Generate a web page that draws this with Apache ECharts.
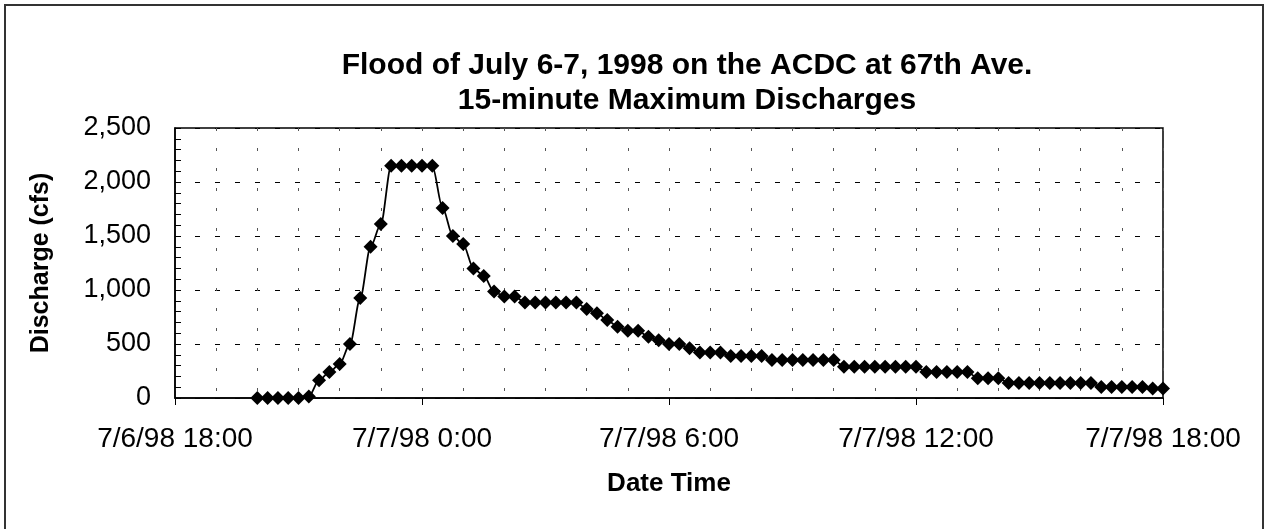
<!DOCTYPE html>
<html>
<head>
<meta charset="utf-8">
<title>Flood of July 6-7, 1998</title>
<script src="https://cdn.jsdelivr.net/npm/echarts@6/dist/echarts.min.js"></script>
<style>
html,body{margin:0;padding:0;background:#fff;}
#chartDiv{width:1269px;height:529px;}
</style>
</head>
<body>
<div id="chartDiv"></div>
<script>
// 15 minute readings
var times = [
	'7/6/98 20:00','7/6/98 20:15','7/6/98 20:30','7/6/98 20:45',
	'7/6/98 21:00','7/6/98 21:15','7/6/98 21:30','7/6/98 21:45',
	'7/6/98 22:00','7/6/98 22:15','7/6/98 22:30','7/6/98 22:45',
	'7/6/98 23:00','7/6/98 23:15','7/6/98 23:30','7/6/98 23:45',
	'7/7/98 0:00','7/7/98 0:15','7/7/98 0:30','7/7/98 0:45',
	'7/7/98 1:00','7/7/98 1:15','7/7/98 1:30','7/7/98 1:45',
	'7/7/98 2:00','7/7/98 2:15','7/7/98 2:30','7/7/98 2:45',
	'7/7/98 3:00','7/7/98 3:15','7/7/98 3:30','7/7/98 3:45',
	'7/7/98 4:00','7/7/98 4:15','7/7/98 4:30','7/7/98 4:45',
	'7/7/98 5:00','7/7/98 5:15','7/7/98 5:30','7/7/98 5:45',
	'7/7/98 6:00','7/7/98 6:15','7/7/98 6:30','7/7/98 6:45',
	'7/7/98 7:00','7/7/98 7:15','7/7/98 7:30','7/7/98 7:45',
	'7/7/98 8:00','7/7/98 8:15','7/7/98 8:30','7/7/98 8:45',
	'7/7/98 9:00','7/7/98 9:15','7/7/98 9:30','7/7/98 9:45',
	'7/7/98 10:00','7/7/98 10:15','7/7/98 10:30','7/7/98 10:45',
	'7/7/98 11:00','7/7/98 11:15','7/7/98 11:30','7/7/98 11:45',
	'7/7/98 12:00','7/7/98 12:15','7/7/98 12:30','7/7/98 12:45',
	'7/7/98 13:00','7/7/98 13:15','7/7/98 13:30','7/7/98 13:45',
	'7/7/98 14:00','7/7/98 14:15','7/7/98 14:30','7/7/98 14:45',
	'7/7/98 15:00','7/7/98 15:15','7/7/98 15:30','7/7/98 15:45',
	'7/7/98 16:00','7/7/98 16:15','7/7/98 16:30','7/7/98 16:45',
	'7/7/98 17:00','7/7/98 17:15','7/7/98 17:30','7/7/98 17:45',
	'7/7/98 18:00'
];
var discharge = [
	0,0,0,0,
	0,15,165,240,
	315,500,925,1400,
	1610,2150,2150,2150,
	2150,2150,1760,1500,
	1425,1200,1130,985,
	940,940,885,885,
	885,885,885,885,
	825,785,722,660,
	623,623,568,535,
	500,500,460,422,
	422,422,388,388,
	388,388,352,352,
	352,352,352,352,
	352,290,290,290,
	290,290,290,290,
	290,240,240,240,
	240,240,184,184,
	184,139,139,139,
	139,139,139,139,
	139,139,102,102,
	102,102,102,88,
	88
];
var xTickLabels = ['7/6/98 18:00','7/7/98 0:00','7/7/98 6:00','7/7/98 12:00','7/7/98 18:00'];
var titleText = 'Flood of July 6-7, 1998 on the ACDC at 67th Ave.\n15-minute Maximum Discharges';

init();

// hours after 7/6/98 18:00
function toHours(s){
	var parts = s.split(' ');
	var d = parseInt(parts[0].split('/')[1], 10);
	var hm = parts[1].split(':');
	return (d - 6) * 24 + parseInt(hm[0], 10) + parseInt(hm[1], 10) / 60 - 18;
}

function init(){
	var data = [];
	for (var i = 0; i < times.length; i++) {
		data.push([toHours(times[i]), discharge[i]]);
	}
	showChart(data);
}

function showChart(data){
	var myChart = echarts.init(document.getElementById('chartDiv'));
	var font = 'Liberation Sans, Arial, sans-serif';
	var option = {
		backgroundColor: '#fff',
		animation: false,
		title: {
			text: titleText,
			left: 687,
			top: 48,
			padding: 0,
			textAlign: 'center',
			textStyle: {fontFamily: font, fontSize: 30, fontWeight: 'bold', color: '#000', lineHeight: 35}
		},
		graphic: [{
			type: 'rect',
			shape: {x: 5, y: 5, width: 1258, height: 540},
			style: {fill: 'none', stroke: '#333', lineWidth: 2}
		}],
		grid: {
			left: 175,
			top: 128,
			width: 988,
			height: 270,
			show: true,
			borderColor: '#000',
			borderWidth: 1.5,
			outerBoundsMode: 'none'
		},
		xAxis: {
			type: 'value',
			min: 0,
			max: 24,
			interval: 6,
			name: 'Date Time',
			nameLocation: 'middle',
			nameGap: 73,
			nameTextStyle: {fontFamily: font, fontSize: 26, fontWeight: 'bold', color: '#000'},
			axisLine: {show: true, lineStyle: {color: '#000', width: 1.5}},
			axisTick: {show: true, inside: false, length: 7, lineStyle: {color: '#000'}},
			minorTick: {show: false, splitNumber: 6},
			axisLabel: {
				margin: 27,
				fontFamily: font, fontSize: 28, color: '#000',
				formatter: function(v){ return xTickLabels[Math.round(v / 6)]; }
			},
			splitLine: {show: true, lineStyle: {color: '#555', type: [3, 17], width: 1}},
			minorSplitLine: {show: true, lineStyle: {color: '#555', type: [3, 17], width: 1}}
		},
		yAxis: {
			type: 'value',
			min: 0,
			max: 2500,
			interval: 500,
			name: 'Discharge (cfs)',
			nameLocation: 'middle',
			nameGap: 121,
			nameTextStyle: {fontFamily: font, fontSize: 25, fontWeight: 'bold', color: '#000'},
			axisLine: {show: true, lineStyle: {color: '#000', width: 1.5}},
			axisTick: {show: true, inside: true, length: 6, lineStyle: {color: '#000'}},
			minorTick: {show: true, splitNumber: 5, length: 6, lineStyle: {color: '#000'}},
			axisLabel: {
				margin: 24,
				fontFamily: font, fontSize: 27, color: '#000',
				formatter: function(v){ return v.toLocaleString('en-US'); }
			},
			splitLine: {show: true, lineStyle: {color: '#000', type: [5, 15], width: 1}}
		},
		series: [{
			name: 'Discharge',
			type: 'line',
			data: data,
			smooth: 0.3,
			smoothMonotone: 'x',
			symbol: 'diamond',
			symbolSize: 14,
			lineStyle: {color: '#000', width: 1.8},
			itemStyle: {color: '#000'}
		}]
	};
	myChart.setOption(option);
}
</script>
</body>
</html>
